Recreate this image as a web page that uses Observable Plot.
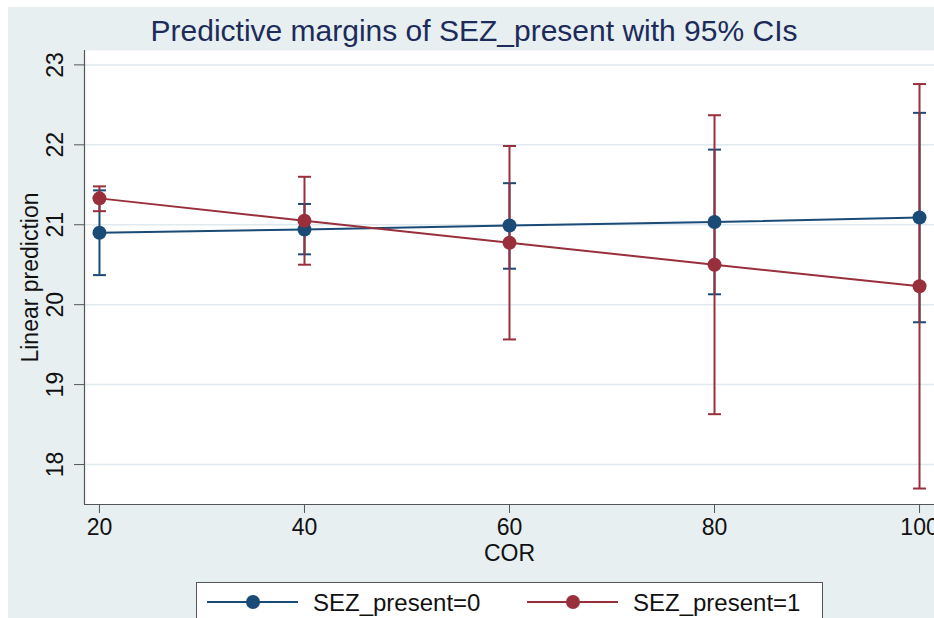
<!DOCTYPE html>
<html><head><meta charset="utf-8">
<script src="https://cdn.jsdelivr.net/npm/d3@7"></script>
<script src="https://cdn.jsdelivr.net/npm/@observablehq/plot@0.6"></script>
<style>
html,body{margin:0;padding:0;background:#fff;}
#wrap{position:relative;width:934px;height:618px;overflow:hidden;background:#fff;font-family:"Liberation Sans",Arial,sans-serif;}
#bg{position:absolute;left:8px;top:7px;width:926px;height:611px;background:#e7eff1;}
#title{position:absolute;left:8px;width:932px;top:15px;line-height:32px;text-align:center;font-size:30px;color:#1c2b59;white-space:nowrap;}
#chart{position:absolute;left:0;top:40px;}
#legend{position:absolute;left:196px;top:582px;width:625px;height:60px;background:#fff;border:1px solid #555;}
.ln{position:absolute;height:2px;}
.dt{position:absolute;width:14px;height:14px;border-radius:50%;}
.lt{position:absolute;font-size:24px;color:#111;white-space:nowrap;line-height:24px;}
</style>
</head><body>
<div id="wrap">
  <div id="bg"></div>
  <div id="title">Predictive margins of SEZ_present with 95% CIs</div>
  <div id="chart"></div>
  <div id="legend"></div>
</div>
<script>
const cor = [20, 40, 60, 80, 100];
const sez0 = [20.90, 20.94, 20.99, 21.035, 21.09];
const sez0Lo = [20.37, 20.63, 20.45, 20.13, 19.78];
const sez0Hi = [21.43, 21.26, 21.52, 21.94, 22.40];
const sez1 = [21.33, 21.05, 20.775, 20.50, 20.23];
const sez1Lo = [21.17, 20.50, 19.565, 18.63, 17.70];
const sez1Hi = [21.48, 21.60, 21.985, 22.37, 22.76];
const yTicks = [18, 19, 20, 21, 22, 23];
const xTicks = [20, 40, 60, 80, 100];
const seriesNames = ["SEZ_present=0", "SEZ_present=1"];
const seriesColors = ["#1a4a76", "#9a2f3c"];

const rows0 = cor.map((c, i) => ({cor: c, m: sez0[i], lo: sez0Lo[i], hi: sez0Hi[i]}));
const rows1 = cor.map((c, i) => ({cor: c, m: sez1[i], lo: sez1Lo[i], hi: sez1Hi[i]}));
const xDomain = [18.54, 101.46];
const yDomain = [17.5, 23.18];

const cap = {draw(ctx) { ctx.moveTo(-6.5, 0); ctx.lineTo(6.5, 0); }};

function ciMarks(rows, color) {
  return [
    Plot.ruleX(rows, {x: "cor", y1: "lo", y2: "hi", stroke: color, strokeWidth: 2}),
    Plot.dot(rows, {x: "cor", y: "lo", symbol: cap, stroke: color, fill: "none", strokeWidth: 2}),
    Plot.dot(rows, {x: "cor", y: "hi", symbol: cap, stroke: color, fill: "none", strokeWidth: 2})
  ];
}

const chart = Plot.plot({
  width: 934,
  height: 530,
  marginLeft: 84,
  marginRight: 0,
  marginTop: 10,
  marginBottom: 66,
  style: {background: "transparent", fontFamily: "Liberation Sans, Arial, sans-serif", overflow: "visible"},
  x: {domain: xDomain},
  y: {domain: yDomain},
  marks: [
    Plot.frame({fill: "white", stroke: null}),
    Plot.gridY(yTicks, {stroke: "#e0eaee", strokeOpacity: 1, strokeWidth: 1.5}),
    ...ciMarks(rows0, seriesColors[0]),
    ...ciMarks(rows1, seriesColors[1]),
    Plot.line(rows0, {x: "cor", y: "m", stroke: seriesColors[0], strokeWidth: 2}),
    Plot.line(rows1, {x: "cor", y: "m", stroke: seriesColors[1], strokeWidth: 2}),
    Plot.dot(rows0, {x: "cor", y: "m", r: 7, fill: seriesColors[0], stroke: null}),
    Plot.dot(rows1, {x: "cor", y: "m", r: 7, fill: seriesColors[1], stroke: null}),
    Plot.ruleX([xDomain[0]], {stroke: "#555", strokeWidth: 1.2}),
    Plot.ruleY([yDomain[0]], {stroke: "#555", strokeWidth: 1.2}),
    Plot.axisY({ticks: yTicks, tickSize: 10, tickFormat: () => "", label: null, stroke: "#555"}),
    Plot.text(yTicks, {y: d => d, text: d => String(d), frameAnchor: "left", dx: -29, rotate: -90, fontSize: 23, fill: "#111", textAnchor: "middle", lineAnchor: "middle"}),
    Plot.axisX({ticks: xTicks, tickSize: 9, tickPadding: 5, fontSize: 23, label: null, stroke: "#555", fill: "#111"}),
    Plot.text(["COR"], {frameAnchor: "bottom", dy: 49, fontSize: 23, fill: "#111", lineAnchor: "middle"}),
    Plot.text(["Linear prediction"], {frameAnchor: "left", dx: -54, rotate: -90, fontSize: 23, fill: "#111", textAnchor: "middle", lineAnchor: "middle"})
  ]
});
document.getElementById("chart").appendChild(chart);

// legend
const leg = document.getElementById("legend");
const legendItems = [
  {lineL: 10, dot: 56, text: 116},
  {lineL: 330, dot: 376, text: 436}
];
seriesNames.forEach((name, i) => {
  const it = legendItems[i];
  const ln = document.createElement("div");
  ln.className = "ln";
  ln.style.cssText = `left:${it.lineL}px;width:91px;top:18px;background:${seriesColors[i]};`;
  const dt = document.createElement("div");
  dt.className = "dt";
  dt.style.cssText = `left:${it.dot - 7}px;top:12px;background:${seriesColors[i]};`;
  const tx = document.createElement("div");
  tx.className = "lt";
  tx.style.cssText = `left:${it.text}px;top:8px;`;
  tx.textContent = name;
  leg.append(ln, dt, tx);
});
</script>
</body></html>
